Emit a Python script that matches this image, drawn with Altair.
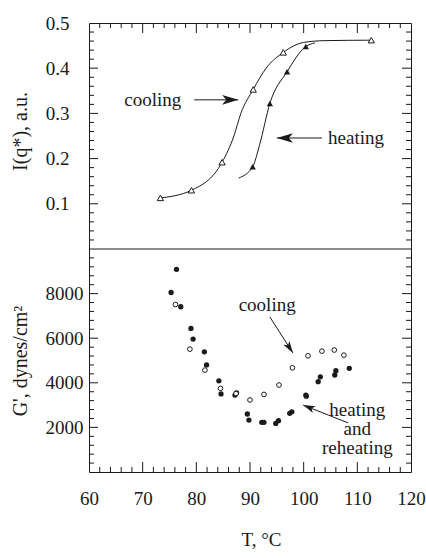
import altair as alt
import pandas as pd

# ---------------- upper panel: I(q*) versus temperature ----------------
cool_T = [73.3, 79.1, 84.8, 90.6, 96.2, 112.6]
cool_I = [0.113, 0.130, 0.192, 0.353, 0.435, 0.462]
heat_T = [90.5, 93.7, 96.9, 100.4]
heat_I = [0.182, 0.322, 0.392, 0.448]

# hand-drawn guide curves through the points
cool_curve_T = [73.3, 79.1, 84.8, 87.0, 88.3, 90.6, 93.0, 96.2, 100.0, 104.0, 112.6]
cool_curve_I = [0.113, 0.130, 0.192, 0.250, 0.300, 0.353, 0.400, 0.435, 0.457, 0.461, 0.462]
heat_curve_T = [87.9, 90.5, 91.8, 93.7, 96.9, 100.4, 102.1]
heat_curve_I = [0.157, 0.182, 0.231, 0.322, 0.392, 0.448, 0.456]

# ---------------- lower panel: G' versus temperature ----------------
coolG_T = [76.1, 78.8, 81.6, 84.5, 87.4, 90.0, 92.6, 95.4, 97.9, 100.8, 103.4, 105.7, 107.5]
coolG = [7510, 5510, 4570, 3750, 3520, 3230, 3480, 3900, 4670, 5210, 5420, 5470, 5240]
heatG_T = [76.3, 75.3, 77.1, 79.0, 79.4, 81.5, 81.9, 84.2, 84.6, 87.2, 87.5, 89.5, 89.8,
           92.2, 92.6, 94.8, 95.3, 97.4, 97.8, 100.4, 100.5, 102.7, 103.1, 105.8, 106.0, 108.5]
heatG = [9090, 8050, 7410, 6440, 5960, 5390, 4800, 4090, 3500, 3450, 3550, 2600, 2330,
         2230, 2230, 2180, 2300, 2630, 2700, 3450, 3400, 4050, 4270, 4350, 4540, 4650]

# axis labels
x_labels = [60, 70, 80, 90, 100, 110, 120]
top_labels = [0.1, 0.2, 0.3, 0.4, 0.5]
bot_labels = [2000, 4000, 6000, 8000]

FONT = "Liberation Serif"
INK = "#1a1a1a"
W, H, TOP_H = 322, 449, 226

x_scale = alt.Scale(domain=[60, 120], nice=False, zero=False)
top_scale = alt.Scale(domain=[0, 0.5], range=[TOP_H, 0], nice=False, zero=False)
bot_scale = alt.Scale(domain=[0, 10000], range=[H, TOP_H], nice=False, zero=False)


def X(field, axis=None):
    if axis is None:
        return alt.X(f"{field}:Q", scale=x_scale)
    return alt.X(f"{field}:Q", scale=x_scale, axis=axis)


def Y(field, scale, axis=None):
    if axis is None:
        return alt.Y(f"{field}:Q", scale=scale)
    return alt.Y(f"{field}:Q", scale=scale, axis=axis)


def y_ticks(values, scale, length):
    df = pd.DataFrame({"v": values})
    left = alt.Chart(df).mark_rule(color=INK, strokeWidth=1).encode(
        y=Y("v", scale), x=alt.value(0), x2=alt.value(length))
    right = alt.Chart(df).mark_rule(color=INK, strokeWidth=1).encode(
        y=Y("v", scale), x=alt.value(W), x2=alt.value(W - length))
    return [left, right]


def x_ticks(values, length, edge):
    df = pd.DataFrame({"v": values})
    if edge == "top":
        y0, y1 = 0, length
    else:
        y0, y1 = H, H - length
    return alt.Chart(df).mark_rule(color=INK, strokeWidth=1).encode(
        x=X("v"), y=alt.value(y0), y2=alt.value(y1))


ARROW_PATH = "M0,0 L-2,-0.6 L-1.5,0 L-2,0.6 Z"


def arrow(tail, tip, scale, angle, head_size):
    df = pd.DataFrame({"x": [tail[0]], "y": [tail[1]], "x2": [tip[0]], "y2": [tip[1]]})
    shaft = alt.Chart(df).mark_rule(color=INK, strokeWidth=1).encode(
        x=X("x"), y=Y("y", scale), x2="x2:Q", y2="y2:Q")
    head = alt.Chart(df).mark_point(
        shape=ARROW_PATH, filled=True, size=head_size, angle=angle,
        color=INK, opacity=1, strokeWidth=0).encode(x=X("x2"), y=Y("y2", scale))
    return [shaft, head]


def label(text, pos, scale):
    df = pd.DataFrame({"x": [pos[0]], "y": [pos[1]]})
    return alt.Chart(df).mark_text(
        text=text, font=FONT, fontSize=19, lineHeight=19, color=INK,
        align="center", baseline="middle").encode(x=X("x"), y=Y("y", scale))


x_minor = [v for v in range(62, 120, 2) if v % 10]
x_major = [70, 80, 90, 100, 110]
top_minor = [round(0.02 * i, 2) for i in range(1, 25) if i % 5]
top_major = [0.1, 0.2, 0.3, 0.4]
bot_minor = [400 * i for i in range(1, 25) if i % 5]
bot_major = [2000, 4000, 6000, 8000]

# ---------------- upper panel layers ----------------
top_axis = alt.Axis(
    orient="left", values=top_labels, format=".1f", ticks=False, domain=False, grid=False,
    labelPadding=20, labelFontSize=19, labelFont=FONT, labelColor=INK,
    labelFlush=False, labelOverlap=False,
    title="I(q*), a.u.", titleFont=FONT, titleFontSize=20, titleFontWeight="normal",
    titleColor=INK, titlePadding=15, titleY=108)

cool_curve = alt.Chart(pd.DataFrame({"T": cool_curve_T, "I": cool_curve_I})).mark_line(
    color=INK, strokeWidth=1, interpolate="monotone").encode(
    x=X("T"), y=Y("I", top_scale, top_axis))
heat_curve = alt.Chart(pd.DataFrame({"T": heat_curve_T, "I": heat_curve_I})).mark_line(
    color=INK, strokeWidth=1, interpolate="monotone").encode(
    x=X("T"), y=Y("I", top_scale))
cool_pts = alt.Chart(pd.DataFrame({"T": cool_T, "I": cool_I})).mark_point(
    shape="triangle-up", filled=True, fill="white", stroke=INK, strokeWidth=1,
    size=40, opacity=1).encode(x=X("T"), y=Y("I", top_scale))
heat_pts = alt.Chart(pd.DataFrame({"T": heat_T, "I": heat_I})).mark_point(
    shape="triangle-up", filled=True, color=INK, size=40, opacity=1).encode(
    x=X("T"), y=Y("I", top_scale))
divider = alt.Chart(pd.DataFrame({"v": [0]})).mark_rule(color=INK, strokeWidth=1).encode(
    y=Y("v", top_scale), x=alt.value(0), x2=alt.value(W))

top_layers = [cool_curve, heat_curve, cool_pts, heat_pts, divider]
top_layers += y_ticks(top_minor, top_scale, 5) + y_ticks(top_major, top_scale, 9)
top_layers += [x_ticks(x_minor, 5, "top"), x_ticks(x_major, 10, "top")]
top_layers += [label("cooling", (71.9, 0.330), top_scale),
               label("heating", (109.75, 0.2456), top_scale)]
top_layers += arrow((79.6, 0.330), (87.8, 0.330), top_scale, 0, 256)
top_layers += arrow((103.4, 0.2456), (95.0, 0.2456), top_scale, 180, 256)
top = alt.layer(*top_layers)

# ---------------- lower panel layers ----------------
bot_axis = alt.Axis(
    orient="left", values=bot_labels, format="d", ticks=False, domain=False, grid=False,
    labelPadding=6, labelFontSize=19, labelFont=FONT, labelColor=INK,
    labelFlush=False, labelOverlap=False,
    title="G', dynes/cm²", titleFont=FONT, titleFontSize=20, titleFontWeight="normal",
    titleColor=INK, titlePadding=15)
x_axis = alt.Axis(
    orient="bottom", values=x_labels, format="d", ticks=False, domain=False, grid=False,
    labelPadding=17, labelFontSize=19, labelFont=FONT, labelColor=INK,
    labelFlush=False, labelOverlap=False,
    title="T, °C", titleFont=FONT, titleFontSize=19, titleFontWeight="normal",
    titleColor=INK, titlePadding=22, titleX=172, titleAlign="center")

heatG_pts = alt.Chart(pd.DataFrame({"T": heatG_T, "G": heatG})).mark_circle(
    color=INK, size=28, opacity=1).encode(
    x=X("T", x_axis), y=Y("G", bot_scale, bot_axis))
coolG_pts = alt.Chart(pd.DataFrame({"T": coolG_T, "G": coolG})).mark_point(
    shape="circle", filled=True, fill="white", stroke=INK, strokeWidth=1,
    size=22, opacity=1).encode(x=X("T"), y=Y("G", bot_scale))

bot_layers = [heatG_pts, coolG_pts]
bot_layers += y_ticks(bot_minor, bot_scale, 5) + y_ticks(bot_major, bot_scale, 9)
bot_layers += [x_ticks(x_minor, 5, "bottom"), x_ticks(x_major, 10, "bottom")]
bot_layers += [label("cooling", (93.2, 7490), bot_scale),
               label(["heating", "and", "reheating"], (110.0, 2780), bot_scale)]
bot_layers += arrow((93.7, 6950), (98.0, 5340), bot_scale, 57, 144)
bot_layers += arrow((108.3, 2200), (99.9, 3000), bot_scale, 202, 144)
bottom = alt.layer(*bot_layers)

chart = alt.layer(bottom, top).resolve_scale(y="independent").properties(
    width=W, height=H,
    autosize=alt.AutoSizeParams(type="none"),
    padding={"left": 89, "top": 23, "right": 15, "bottom": 86},
    background="white",
).configure_view(stroke=INK, strokeWidth=1).configure_axis(
    grid=False, labelFont=FONT, titleFont=FONT, labelFontSize=19, labelColor=INK,
    titleColor=INK, titleFontWeight="normal")

chart.save("out.html", embed_options={"renderer": "svg", "actions": False})
